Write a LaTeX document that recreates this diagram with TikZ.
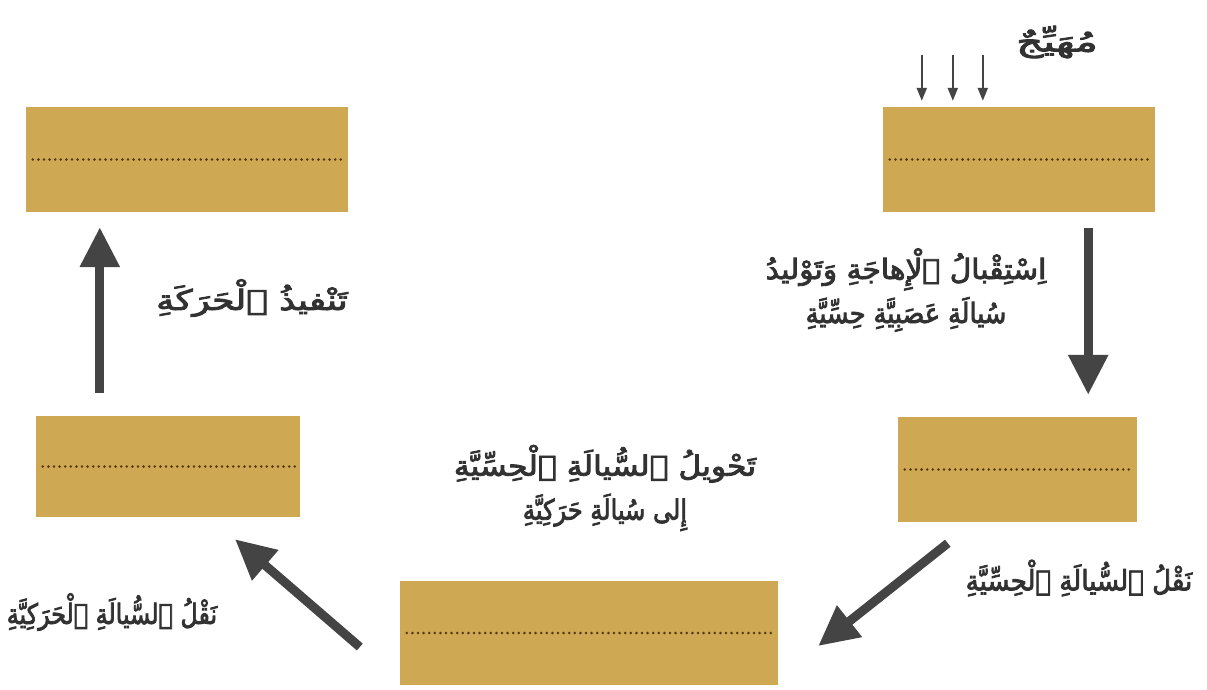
\documentclass[tikz,border=0pt]{standalone}
\usepackage{fontspec}
\usepackage{graphicx}
\usetikzlibrary{arrows.meta,calc}
\TeXXeTstate=1
\newfontfamily\arabicfont[Script=Arabic, BoldFont={DejaVu Sans}, BoldFeatures={FakeBold=3}]{DejaVu Sans}
\definecolor{boxfill}{RGB}{206,168,82}
\definecolor{dotcol}{RGB}{85,55,20}
\definecolor{arrowcol}{RGB}{68,68,68}
\definecolor{txtcol}{RGB}{50,50,50}
\begin{document}
\begin{tikzpicture}[x=1pt,y=-1pt,
 box/.style={fill=boxfill, draw=none, inner sep=0pt},
 dotline/.style={draw=dotcol, line width=2.8pt, line cap=round, dash pattern=on 0pt off 5.6pt},
 bigarrow/.style={draw=arrowcol, line width=9pt, -{Triangle[width=38pt,length=40pt]}},
 smallarrow/.style={draw=arrowcol, line width=2.2pt, -{Triangle[width=10pt,length=13pt]}},
 lbl/.style={text=txtcol, font=\arabicfont\bfseries\fontsize{28}{44}\selectfont, align=center, inner sep=0pt}]
\fill[white] (0,0) rectangle (1207,689);
\useasboundingbox (0,0) rectangle (1207,689);
% boxes
\node[box, minimum width=272pt, minimum height=105pt] (tr) at (1019,159.5) {};
\node[box, minimum width=322pt, minimum height=105pt] (tl) at (187,159.5) {};
\node[box, minimum width=264pt, minimum height=101pt] (ml) at (168,466.5) {};
\node[box, minimum width=239pt, minimum height=105pt] (mr) at (1017.5,469.5) {};
\node[box, minimum width=378pt, minimum height=104pt] (bot) at (589,633) {};
% dotted lines
\foreach \b in {tr,tl,ml,mr,bot}{
  \draw[dotline] ($(\b.west)+(7,0)$) -- ($(\b.east)+(-4,0)$);
}
% labels
\node[lbl] (stim) at (1057,42) {\scalebox{1.5}[1]{\beginR مُهَيِّجٌ\endR}};
\node[lbl] (recv) at (906,290) {\scalebox{1.06}[1]{\beginR اِسْتِقْبالُ ٱلْإِهاجَةِ وَتَوْليدُ\endR}\\\scalebox{0.91}[1]{\beginR سُيالَةِ عَصَبِيَّةِ حِسِّيَّةِ\endR}};
\node[lbl] (exec) at (252,298) {\scalebox{1.28}[1]{\beginR تَنْفيذُ ٱلْحَرَكَةِ\endR}};
\node[lbl] (conv) at (605,488) {\scalebox{1.12}[1]{\beginR تَحْويلُ ٱلسُّيالَةِ ٱلْحِسِّيَّةِ\endR}\\\scalebox{0.86}[1]{\beginR إِلى سُيالَةِ حَرَكِيَّةِ\endR}};
\node[lbl] (sens) at (1079,578) {\scalebox{0.93}[1]{\beginR نَقْلُ ٱلسُّيالَةِ ٱلْحِسِّيَّةِ\endR}};
\node[lbl] (mot) at (112,612) {\scalebox{0.85}[1]{\beginR نَقْلُ ٱلسُّيالَةِ ٱلْحَرَكِيَّةِ\endR}};
% small stimulus arrows
\foreach \dx in {39,70,100}{
  \coordinate (s\dx) at ($(tr.north west)+(\dx,-52)$);
  \draw[smallarrow] (s\dx) -- ($(tr.north west)+(\dx,-6)$);
}
% big arrows
\draw[bigarrow] ($(tr.south east)+(-67,16)$) -- ($(mr.north east)+(-49,-22)$);
\draw[bigarrow] ($(mr.south west)+(50,21)$) -- ($(bot.east)+(40,13)$);
\draw[bigarrow] ($(bot.west)+(-40,14)$) -- ($(ml.south)+(67,22)$);
\draw[bigarrow] ($(ml.north west)+(64,-23)$) -- ($(tl.south west)+(74,15)$);
\end{tikzpicture}
\end{document}
